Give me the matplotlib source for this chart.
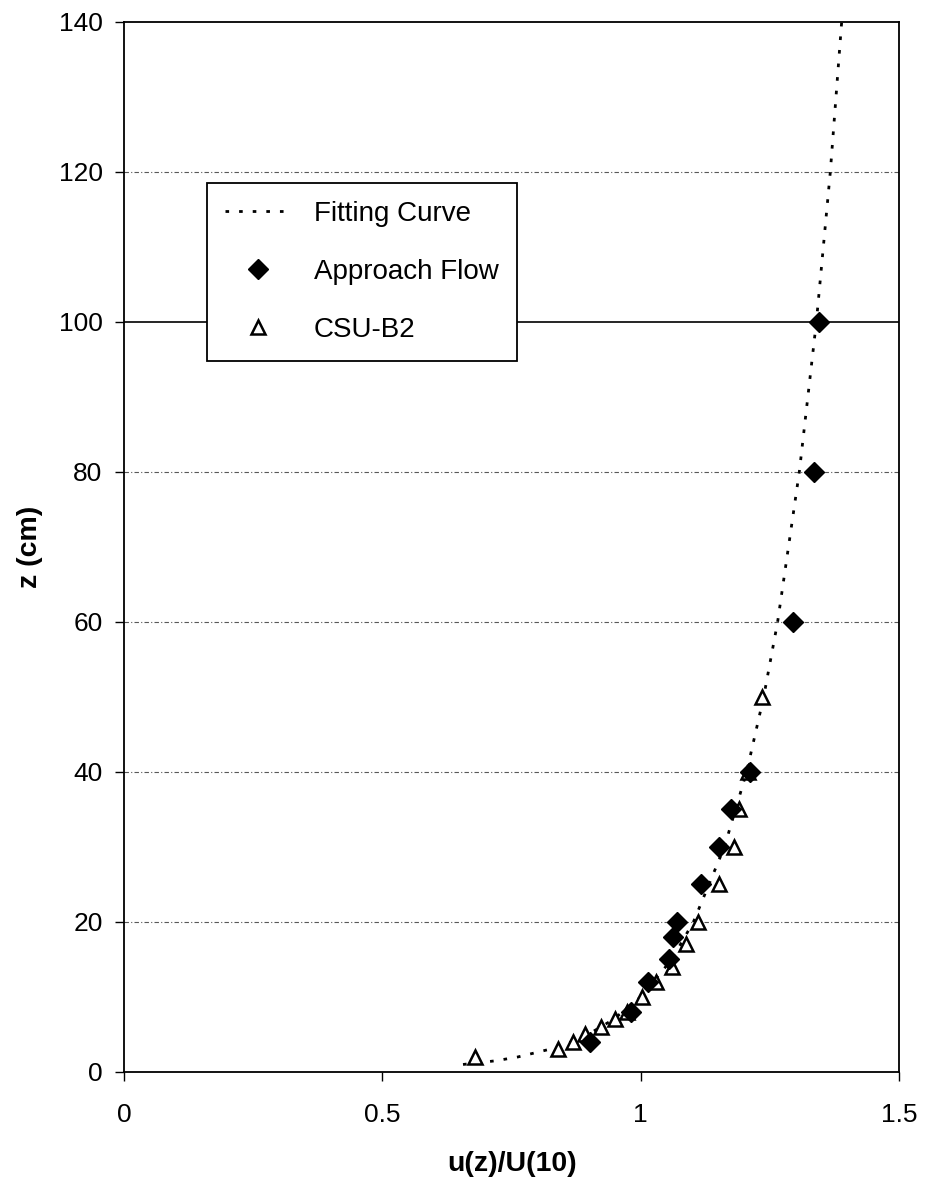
import matplotlib
matplotlib.use('Agg')
import matplotlib.pyplot as plt

plt.rcParams['font.family'] = ['Liberation Sans', 'DejaVu Sans']

# approach flow (filled diamonds)
approach_u = [0.901, 0.981, 1.014, 1.055, 1.062, 1.071, 1.117, 1.151, 1.175, 1.212, 1.295, 1.335, 1.346]
approach_z = [4, 8, 12, 15, 18, 20, 25, 30, 35, 40, 60, 80, 100]

# CSU-B2 (open triangles)
csu_u = [0.680, 0.840, 0.869, 0.892, 0.923, 0.951, 0.974, 1.003, 1.029, 1.060,
         1.088, 1.111, 1.151, 1.181, 1.191, 1.207, 1.235]
csu_z = [2, 3, 4, 5, 6, 7, 8, 10, 12, 14, 17, 20, 25, 30, 35, 40, 50]

# fitting curve
fit_u = [0.656, 0.72, 0.762, 0.822, 0.865, 0.898, 0.947, 1.0, 1.06, 1.102,
         1.162, 1.205, 1.238, 1.265, 1.307, 1.34, 1.367, 1.389, 1.396]
fit_z = [1, 1.5, 2, 3, 4, 5, 7, 10, 15, 20, 30, 40, 50, 60, 80, 100, 120, 140, 147]

x_ticks = [0, 0.5, 1, 1.5]
x_labels = ['0', '0.5', '1', '1.5']
y_ticks = [0, 20, 40, 60, 80, 100, 120, 140]
grid_z = [20, 40, 60, 80, 120]
solid_z = [100]

fig = plt.figure(figsize=(9.25, 11.87), dpi=100)
ax = fig.add_axes([0.1342, 0.0969, 0.8377, 0.8846])

for g in grid_z:
    ax.axhline(g, color='0.35', lw=0.8, ls=(0, (4, 2, 1, 2)), zorder=1)
for g in solid_z:
    ax.axhline(g, color='black', lw=1.2, zorder=1)

ax.plot(fit_u, fit_z, color='black', lw=2, ls=(0, (1.3, 3.6)),
        label='Fitting Curve', zorder=2)
ax.plot(approach_u, approach_z, ls='none', marker='D', ms=10.5, mfc='black',
        mec='black', label='Approach Flow', zorder=4)
ax.plot(csu_u, csu_z, ls='none', marker='^', ms=10, mfc='white', mec='black',
        mew=1.8, label='CSU-B2', zorder=3)

ax.set_xlim(0, 1.5)
ax.set_ylim(0, 140)
ax.set_xticks(x_ticks)
ax.set_xticklabels(x_labels)
ax.set_yticks(y_ticks)
ax.tick_params(axis='both', direction='out', length=6.5, width=1, labelsize=19)
ax.tick_params(axis='y', pad=9)
ax.tick_params(axis='x', pad=16)
for s in ax.spines.values():
    s.set_linewidth(1.3)

ax.set_xlabel('u(z)/U(10)', fontsize=20.5, fontweight='bold', labelpad=17)
ax.set_ylabel('z (cm)', fontsize=20.5, fontweight='bold', labelpad=11)

leg = ax.legend(loc='upper left', bbox_to_anchor=(0.107, 0.847), borderaxespad=0,
                fontsize=20, frameon=True, fancybox=False, framealpha=1,
                edgecolor='black', handlelength=2.4, handletextpad=0.8,
                labelspacing=1.15, borderpad=0.65)
leg.get_frame().set_linewidth(1.3)

fig.savefig('out.png', dpi=100)
